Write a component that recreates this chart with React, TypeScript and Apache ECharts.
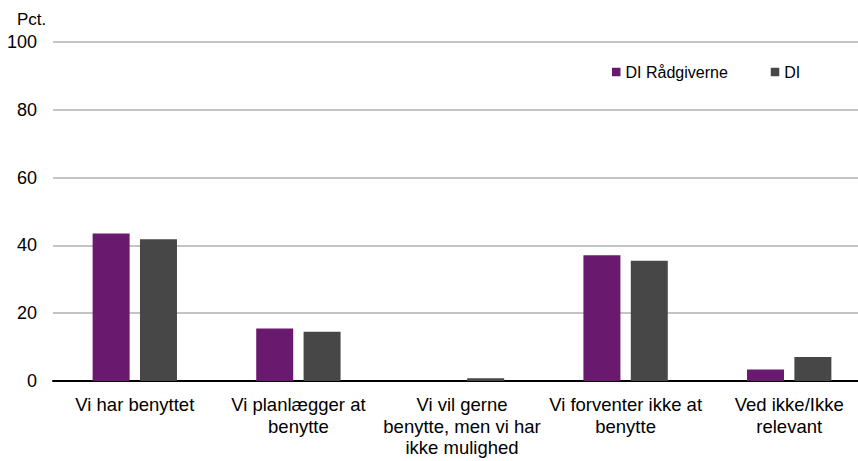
import React, { useEffect, useRef } from "react";
import * as echarts from "echarts";

const categories = [
  "Vi har benyttet",
  "Vi planlægger at\nbenytte",
  "Vi vil gerne\nbenytte, men vi har\nikke mulighed",
  "Vi forventer ikke at\nbenytte",
  "Ved ikke/Ikke\nrelevant",
];
const seriesNames = ["DI Rådgiverne", "DI"];
const diRaadgiverne = [43.5, 15.5, 0, 37.1, 3.4];
const di = [41.8, 14.5, 0.8, 35.5, 7.1];
const yTicks = [0, 20, 40, 60, 80, 100];

export default function App() {
  const ref = useRef<HTMLDivElement>(null);
  useEffect(() => {
    if (!ref.current) return;
    const chart = echarts.init(ref.current, null, { renderer: "svg" });
    const font = "'Liberation Sans', Arial, sans-serif";
    chart.setOption({
      animation: false,
      textStyle: { fontFamily: font },
      grid: { left: 53, right: 0, top: 42, bottom: 80, containLabel: false },
      graphic: [
        {
          type: "text",
          left: 17,
          top: 11,
          style: { text: "Pct.", font: `17px ${font}`, fill: "#000" },
        },
      ],
      legend: {
        left: 612,
        top: 64,
        padding: 0,
        itemWidth: 8.5,
        itemHeight: 8.5,
        itemGap: 43,
        icon: "rect",
        textStyle: { fontSize: 16, color: "#000", fontFamily: font },
        data: seriesNames,
      },
      xAxis: {
        type: "category",
        data: categories,
        axisLine: { lineStyle: { color: "#000", width: 2 } },
        axisTick: { show: false },
        axisLabel: {
          color: "#000",
          fontSize: 18.5,
          lineHeight: 21.5,
          margin: 13,
          interval: 0,
          fontFamily: font,
        },
      },
      yAxis: {
        type: "value",
        min: yTicks[0],
        max: yTicks[yTicks.length - 1],
        interval: 20,
        axisLine: { show: false },
        axisTick: { show: false },
        axisLabel: { color: "#000", fontSize: 18, margin: 16, fontFamily: font },
        splitLine: { lineStyle: { color: "#c4c4c4", width: 2 } },
      },
      series: [
        {
          name: seriesNames[0],
          type: "bar",
          data: diRaadgiverne,
          barWidth: 37,
          barGap: "28%",
          itemStyle: { color: "#6a1a6e" },
        },
        {
          name: seriesNames[1],
          type: "bar",
          data: di,
          barWidth: 37,
          barGap: "28%",
          itemStyle: { color: "#474747" },
        },
      ],
    });
    return () => chart.dispose();
  }, []);
  return (
    <div style={{ width: 858, height: 461, position: "absolute", left: 0, top: 0, overflow: "hidden" }}>
      <div ref={ref} style={{ width: 871, height: 461 }} />
    </div>
  );
}
